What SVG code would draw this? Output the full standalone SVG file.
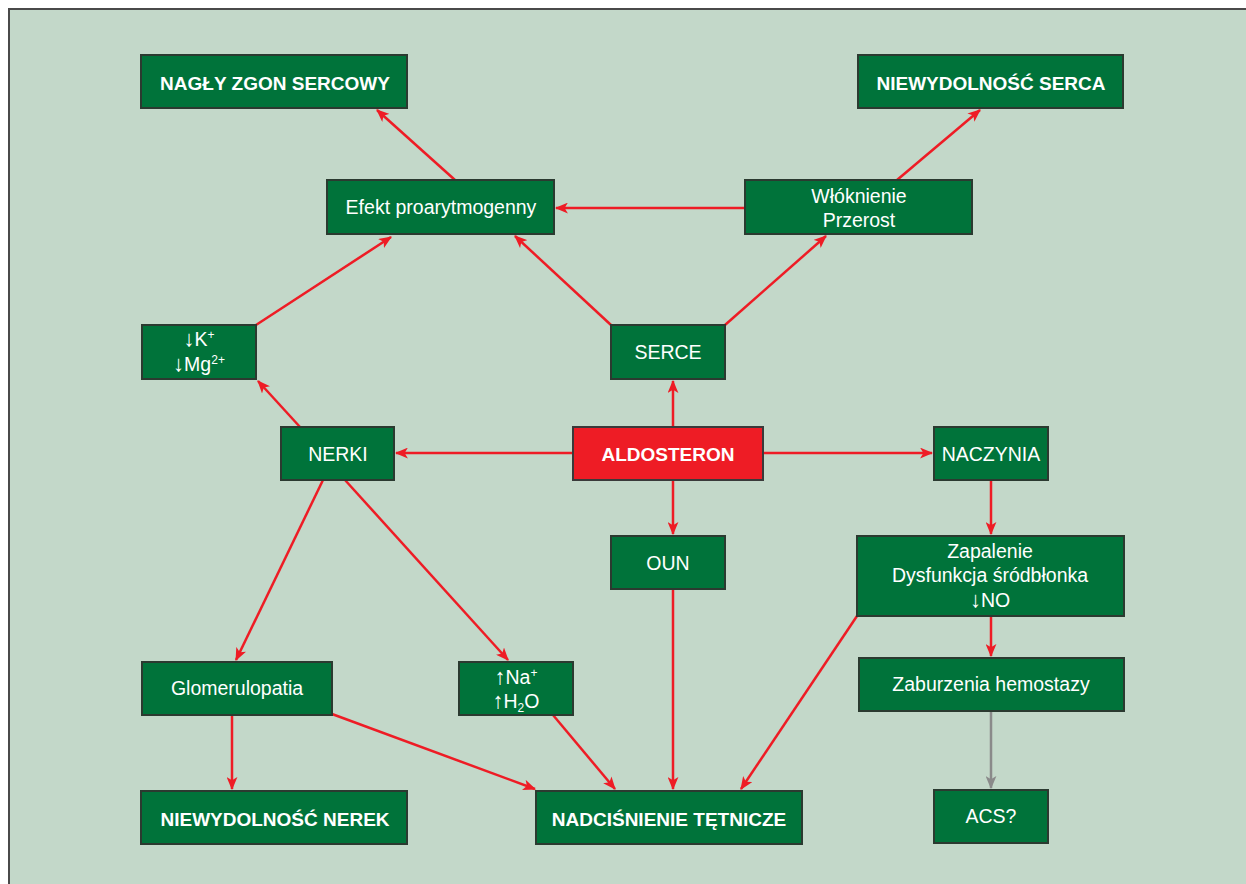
<svg xmlns="http://www.w3.org/2000/svg" width="1246" height="884" viewBox="0 0 1246 884">
<defs>
<style>
.n{fill:#00733a;stroke:#2b3a30;stroke-width:2}
.r{fill:#ee1c25;stroke:#3a3a3a;stroke-width:2}
.t{font-family:"Liberation Sans",Arial,sans-serif;font-size:19.5px;fill:#fff;text-anchor:middle}
.b{font-weight:bold;font-size:19px}
.sup{font-size:12px}
.ar{font-size:22px}
.c{stroke:#ee1c25;stroke-width:2.5;fill:none;marker-end:url(#a)}
.g{stroke:#8a8a8a;stroke-width:2.5;fill:none;marker-end:url(#ag)}
</style>
<marker id="a" viewBox="0 0 12 10" refX="11" refY="5" markerWidth="13" markerHeight="11" markerUnits="userSpaceOnUse" orient="auto"><path d="M0,0 L12,5 L0,10 L3,5 Z" fill="#ee1c25"/></marker>
<marker id="ag" viewBox="0 0 12 10" refX="11" refY="5" markerWidth="13" markerHeight="11" markerUnits="userSpaceOnUse" orient="auto"><path d="M0,0 L12,5 L0,10 L3,5 Z" fill="#8a8a8a"/></marker>
</defs>
<rect x="0" y="0" width="1246" height="884" fill="#fff"/>
<rect x="9" y="9" width="1250" height="890" fill="#c3d8c9" stroke="#4a4a4a" stroke-width="2"/>
<g id="connectors">
<line class="c" x1="573" y1="453" x2="396" y2="453"/>
<line class="c" x1="763" y1="453" x2="932" y2="453"/>
<line class="c" x1="673" y1="427" x2="673" y2="381"/>
<line class="c" x1="673" y1="480" x2="673" y2="534"/>
<line class="c" x1="611" y1="325" x2="515" y2="236"/>
<line class="c" x1="725" y1="325" x2="826" y2="236"/>
<line class="c" x1="745" y1="208" x2="556" y2="208"/>
<line class="c" x1="455" y1="180" x2="377" y2="110"/>
<line class="c" x1="897" y1="180" x2="980" y2="110"/>
<line class="c" x1="256" y1="325" x2="391" y2="237"/>
<line class="c" x1="300" y1="427" x2="258" y2="381"/>
<line class="c" x1="323" y1="480" x2="236" y2="660"/>
<line class="c" x1="345" y1="480" x2="508" y2="660"/>
<line class="c" x1="232" y1="715" x2="232" y2="789"/>
<line class="c" x1="332" y1="714" x2="535" y2="789"/>
<line class="c" x1="553" y1="715" x2="615" y2="789"/>
<line class="c" x1="673" y1="589" x2="673" y2="789"/>
<line class="c" x1="857" y1="616" x2="741" y2="789"/>
<line class="c" x1="991" y1="480" x2="991" y2="534"/>
<line class="c" x1="991" y1="616" x2="991" y2="656"/>
<line class="g" x1="991" y1="711" x2="991" y2="788"/>
</g>
<g id="nagly"><rect class="n" x="141" y="55" width="266" height="53"/><text class="t b" x="275" y="90">NAGŁY ZGON SERCOWY</text></g>
<g id="niewydolnosc-serca"><rect class="n" x="858" y="55" width="265" height="53"/><text class="t b" x="991" y="90">NIEWYDOLNOŚĆ SERCA</text></g>
<g id="efekt"><rect class="n" x="327" y="180" width="227" height="54"/><text class="t" x="441" y="214">Efekt proarytmogenny</text></g>
<g id="wloknienie"><rect class="n" x="745" y="180" width="227" height="54"/><text class="t" x="859" y="203">Włóknienie</text><text class="t" x="859" y="227">Przerost</text></g>
<g id="kmg"><rect class="n" x="142" y="325" width="114" height="54"/><text class="t" x="199" y="346"><tspan class="ar">↓</tspan>K<tspan class="sup" dy="-7">+</tspan></text><text class="t" x="199" y="371"><tspan class="ar">↓</tspan>Mg<tspan class="sup" dy="-7">2+</tspan></text></g>
<g id="serce"><rect class="n" x="611" y="325" width="114" height="54"/><text class="t" x="668" y="359">SERCE</text></g>
<g id="nerki"><rect class="n" x="281" y="427" width="113" height="53"/><text class="t" x="338" y="461">NERKI</text></g>
<g id="aldosteron"><rect class="r" x="573" y="427" width="190" height="53"/><text class="t b" x="668" y="461">ALDOSTERON</text></g>
<g id="naczynia"><rect class="n" x="934" y="427" width="114" height="53"/><text class="t" x="991" y="461">NACZYNIA</text></g>
<g id="oun"><rect class="n" x="611" y="536" width="114" height="53"/><text class="t" x="668" y="570">OUN</text></g>
<g id="zapalenie"><rect class="n" x="857" y="536" width="267" height="80"/><text class="t" x="990" y="558">Zapalenie</text><text class="t" x="990" y="582">Dysfunkcja śródbłonka</text><text class="t" x="990" y="607"><tspan class="ar">↓</tspan>NO</text></g>
<g id="glomerulopatia"><rect class="n" x="142" y="662" width="190" height="53"/><text class="t" x="237" y="695">Glomerulopatia</text></g>
<g id="nah2o"><rect class="n" x="459" y="662" width="114" height="53"/><text class="t" x="516" y="684"><tspan class="ar">↑</tspan>Na<tspan class="sup" dy="-7">+</tspan></text><text class="t" x="516" y="708"><tspan class="ar">↑</tspan>H<tspan class="sup" dy="4">2</tspan><tspan dy="-4">O</tspan></text></g>
<g id="zaburzenia"><rect class="n" x="859" y="658" width="265" height="53"/><text class="t" x="991" y="691">Zaburzenia hemostazy</text></g>
<g id="niewydolnosc-nerek"><rect class="n" x="141" y="791" width="266" height="53"/><text class="t b" x="275" y="826">NIEWYDOLNOŚĆ NEREK</text></g>
<g id="nadcisnienie"><rect class="n" x="536" y="791" width="266" height="53"/><text class="t b" x="669" y="826">NADCIŚNIENIE TĘTNICZE</text></g>
<g id="acs"><rect class="n" x="934" y="790" width="114" height="53"/><text class="t" x="991" y="823">ACS?</text></g>
</svg>
